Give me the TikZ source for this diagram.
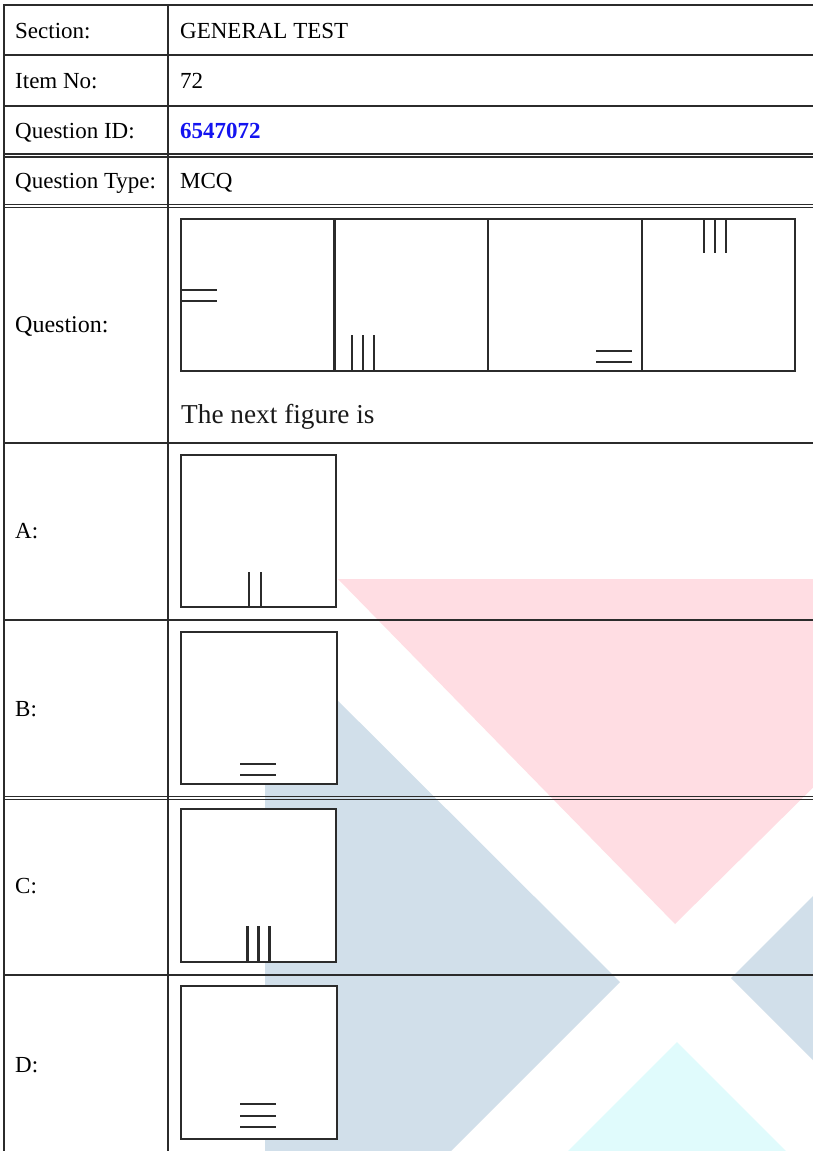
\documentclass[tikz,border=0pt]{standalone}
\usepackage{fontspec}
\setmainfont{Liberation Serif}
\definecolor{wpink}{HTML}{FFDDE3}
\definecolor{wblue}{HTML}{D1DFEA}
\definecolor{wcyan}{HTML}{E0FBFC}
\definecolor{rulec}{HTML}{2B2B2B}
\definecolor{idblue}{HTML}{1414F0}
\begin{document}
\begin{tikzpicture}[x=1pt,y=-1pt,
  tline/.style={draw=rulec,line width=2.4pt},
  dline/.style={draw=rulec,line width=1.2pt},
  figbox/.style={draw=rulec,line width=2.4pt,fill=white},
  figline/.style={draw=rulec,line width=2.4pt},
  figmk/.style={draw=rulec,line width=2.3pt},
  lbl/.style={anchor=base west,inner sep=0pt,font=\fontsize{23}{27}\selectfont}]
\useasboundingbox (0,0) rectangle (813,1151);
\fill[white] (0,0) rectangle (813,1151);
% watermark
\begin{scope}
\clip (0,0) rectangle (813,1151);
\fill[wpink] (338,579) -- (1024,579) -- (675,924) -- cycle;
\fill[wblue] (265,633) -- (270,633) -- (620,982) -- (451,1151) -- (265,1151) -- cycle;
\fill[wblue] (731,978) -- (913,796) -- (913,1160) -- cycle;
\fill[wcyan] (677,1042) -- (786,1151) -- (568,1151) -- cycle;
\end{scope}
% table rules
\draw[tline] (3,5) -- (813,5);
\draw[tline] (3,55) -- (813,55);
\draw[tline] (3,106) -- (813,106);
\draw[dline] (3,154) -- (813,154);
\draw[dline] (3,157) -- (813,157);
\draw[dline] (3,204.5) -- (813,204.5);
\draw[dline] (3,207.3) -- (813,207.3);
\draw[tline] (3,443) -- (813,443);
\draw[tline] (3,620) -- (813,620);
\draw[dline] (3,796.3) -- (813,796.3);
\draw[dline] (3,799.2) -- (813,799.2);
\draw[tline] (3,975) -- (813,975);
\draw[tline] (4,4) -- (4,1151);
\draw[tline] (168,4) -- (168,1151);
% labels
\node[lbl] (tSec) at (15,38) {Section:};
\node[lbl] (vSec) at (180,38) {GENERAL TEST};
\node[lbl] (tItem) at (15,88) {Item No:};
\node[lbl] (vItem) at (180,88) {72};
\node[lbl] (tQid) at (15,138.5) {Question ID:};
\node[lbl,text=idblue,font=\fontsize{23}{27}\selectfont\bfseries] (vQid) at (180,138.5) {6547072};
\node[lbl] (tQty) at (15,188.5) {Question Type:};
\node[lbl] (vQty) at (180,188.5) {MCQ};
\node[lbl,font=\fontsize{24}{28}\selectfont] (tQ) at (15,332) {Question:};
\node[lbl,text=black!90,font=\fontsize{27.3}{31}\selectfont] (vQ) at (181,423) {The next figure is};
\node[lbl] (tA) at (15,538) {A:};
\node[lbl] (tB) at (15,716) {B:};
\node[lbl] (tC) at (15,893) {C:};
\node[lbl] (tD) at (15,1072) {D:};
% question figure
\draw[figbox] (181,219) rectangle (795,371);
\draw[figline] (334.5,219) -- (334.5,371);
\draw[figline] (488,219) -- (488,371);
\draw[figline] (642,219) -- (642,371);
\draw[figmk] (181,290) -- (217,290);
\draw[figmk] (181,301) -- (217,301);
\draw[figmk] (352,335) -- (352,371);
\draw[figmk] (363,335) -- (363,371);
\draw[figmk] (374,335) -- (374,371);
\draw[figmk] (596,351) -- (632,351);
\draw[figmk] (596,362) -- (632,362);
\draw[figmk] (704,219) -- (704,253);
\draw[figmk] (715,219) -- (715,253);
\draw[figmk] (726,219) -- (726,253);
% option A
\draw[figbox] (181,455) rectangle (336,607);
\draw[figmk] (249,572) -- (249,607);
\draw[figmk] (261,572) -- (261,607);
% option B
\draw[figbox] (181,632) rectangle (337,784);
\draw[figmk] (240,764) -- (276,764);
\draw[figmk] (240,775) -- (276,775);
% option C
\draw[figbox] (181,809) rectangle (336,962);
\draw[figmk] (247.5,926) -- (247.5,962);
\draw[figmk] (258.5,926) -- (258.5,962);
\draw[figmk] (269.5,926) -- (269.5,962);
% option D
\draw[figbox] (181,986) rectangle (337,1139);
\draw[figmk] (240,1104) -- (276,1104);
\draw[figmk] (240,1116) -- (276,1116);
\draw[figmk] (240,1127) -- (276,1127);
\end{tikzpicture}
\end{document}
